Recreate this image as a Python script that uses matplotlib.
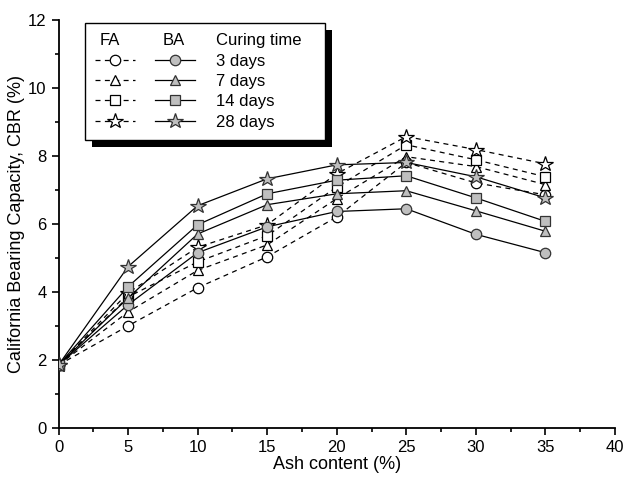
import matplotlib.pyplot as plt
from matplotlib.patches import Rectangle
from matplotlib.legend_handler import HandlerTuple
from matplotlib.ticker import MultipleLocator

plt.rcParams['font.family'] = ['Liberation Sans', 'DejaVu Sans']

# Ash content (%) and CBR values (%) for each curing time
ash = [0, 5, 10, 15, 20, 25, 30, 35]
curing = ['3 days', '7 days', '14 days', '28 days']
markers = ['o', '^', 's', '*']

fa_3 = [1.85, 3.00, 4.12, 5.03, 6.20, 7.80, 7.20, 6.85]
fa_7 = [1.85, 3.41, 4.63, 5.38, 6.74, 7.97, 7.68, 7.15]
fa_14 = [1.85, 3.85, 4.88, 5.65, 7.08, 8.32, 7.88, 7.38]
fa_28 = [1.85, 3.97, 5.31, 5.97, 7.47, 8.56, 8.18, 7.76]

ba_3 = [1.85, 3.62, 5.15, 5.91, 6.36, 6.44, 5.69, 5.15]
ba_7 = [1.85, 3.82, 5.70, 6.56, 6.88, 6.97, 6.38, 5.78]
ba_14 = [1.85, 4.15, 5.97, 6.88, 7.28, 7.41, 6.76, 6.07]
ba_28 = [1.85, 4.74, 6.53, 7.32, 7.73, 7.80, 7.38, 6.76]

fa_series = [fa_3, fa_7, fa_14, fa_28]
ba_series = [ba_3, ba_7, ba_14, ba_28]

fig = plt.figure(figsize=(6.32, 4.83), dpi=100)
ax = fig.add_axes([0.0926, 0.1139, 0.8804, 0.8457])

gris = '#bfbfbf'
fa_handles = []
ba_handles = []
for serie, m in zip(fa_series, markers):
    ms = 11.5 if m == '*' else 7.5
    h, = ax.plot(ash, serie, color='black', lw=0.9, ls=(0, (4, 3.5)),
                 marker=m, ms=ms, mfc='white', mec='black', mew=0.9, zorder=2)
    fa_handles.append(h)
for serie, m in zip(ba_series, markers):
    ms = 11.5 if m == '*' else 7.5
    h, = ax.plot(ash, serie, color='black', lw=0.9, ls='-',
                 marker=m, ms=ms, mfc=gris, mec='#333333', mew=0.9, zorder=3)
    ba_handles.append(h)

ax.set_xlim(0, 40)
ax.set_ylim(0, 12)
ax.xaxis.set_major_locator(MultipleLocator(5))
ax.xaxis.set_minor_locator(MultipleLocator(2.5))
ax.yaxis.set_major_locator(MultipleLocator(2))
ax.yaxis.set_minor_locator(MultipleLocator(1))
ax.tick_params(which='major', length=5, width=1.2, labelsize=12, direction='out')
ax.tick_params(which='minor', length=3, width=1.2, direction='out')
ax.spines['top'].set_visible(False)
ax.spines['right'].set_visible(False)
for s in ('left', 'bottom'):
    ax.spines[s].set_linewidth(1.3)

ax.set_xlabel('Ash content (%)', fontsize=13, labelpad=1)
ax.set_ylabel('California Bearing Capacity, CBR (%)', fontsize=13, labelpad=2)

# Legend: FA and BA symbols side by side, curing time as label.
# The title only reserves room; the column headers are written after layout.
handles = [(f, b) for f, b in zip(fa_handles, ba_handles)]
leg = ax.legend(handles, curing, loc='upper left', bbox_to_anchor=(0.0476, 0.991),
                borderaxespad=0,
                handler_map={tuple: HandlerTuple(ndivide=None, pad=1.2)},
                handlelength=6.0, fontsize=12, title=' ' * 27 + 'Curing time  ',
                title_fontsize=12, frameon=True, fancybox=False,
                edgecolor='black', framealpha=1, borderpad=0.6,
                labelspacing=0.32, handletextpad=1.25)
leg._legend_box.align = 'left'
leg.get_title().set_alpha(0)
leg.get_frame().set_linewidth(1.0)
leg.set_zorder(10)

fig.canvas.draw()
inv = fig.transFigure.inverted()
bb = leg.get_window_extent().transformed(inv)
tb = leg.get_title().get_window_extent().transformed(inv)
lb = leg.get_texts()[0].get_window_extent().transformed(inv)

# column headers above the legend rows
ty = tb.y0 + tb.height / 2
for texto, x in [('FA', bb.x0 + 15 / 632), ('BA', bb.x0 + 78 / 632), ('Curing time', lb.x0)]:
    fig.text(x, ty, texto, fontsize=12, va='center', ha='left', zorder=12)

# black drop shadow behind the legend box
dx, dy = 7 / 632, 7 / 483
sombra = Rectangle((bb.x0 + dx, bb.y0 - dy), bb.width, bb.height,
                   transform=fig.transFigure, facecolor='black',
                   edgecolor='none', zorder=9)
ax.add_artist(sombra)

fig.savefig('out.png', dpi=100)
